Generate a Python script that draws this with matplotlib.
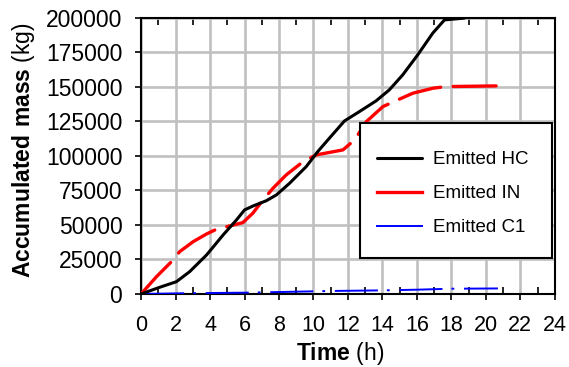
import matplotlib
matplotlib.use("Agg")
import matplotlib.pyplot as plt
from matplotlib.ticker import MultipleLocator
from matplotlib.patches import Rectangle

plt.rcParams['font.family'] = ['Liberation Sans', 'DejaVu Sans']
plt.rcParams['mathtext.fontset'] = 'custom'
plt.rcParams['mathtext.rm'] = 'Liberation Sans'
plt.rcParams['mathtext.bf'] = 'Liberation Sans:bold'
plt.rcParams['lines.scale_dashes'] = False

# Emitted HC
hc_t = [0, 1.08, 2.05, 2.82, 3.8, 4.76, 5.53, 6.0, 6.5, 7.27, 7.85, 8.62, 9.58, 10.25,
        10.75, 11.8, 12.67, 13.63, 14.4, 15.18, 16.05, 16.92, 17.6, 18.76]
hc_m = [0, 4850, 8900, 16200, 28300, 42800, 53600, 60900, 63800, 67600, 71800, 80300, 92300, 103200,
        110400, 125400, 132200, 139900, 147900, 158800, 173300, 189000, 198600, 199900]

# Emitted IN
in_t = [0, 0.89, 1.76, 2.24, 3.02, 3.8, 4.37, 5.14, 5.9, 6.48, 7.07, 7.65, 8.42, 9.4,
        10.17, 11.71, 12.39, 13.07, 14.03, 14.9, 15.77, 16.93, 17.7, 19.0, 20.8]
in_m = [0, 12500, 23400, 30700, 37900, 43500, 46900, 49300, 51700, 58500, 68100, 76600, 86300, 95900,
        100800, 104400, 111700, 124900, 135800, 140700, 145500, 149100, 150300, 150500, 150800]

# Emitted C1
c1_t = [0, 2.4, 6.0, 8.0, 11.0, 14.0, 16.0, 18.0, 20.7]
c1_m = [0, 500, 940, 1400, 2170, 2600, 3100, 3800, 4000]

series_labels = ['Emitted HC', 'Emitted IN', 'Emitted C1']

fig = plt.figure(figsize=(5.69, 3.67), dpi=100)
ax = fig.add_axes([0.248, 0.199, 0.727, 0.752])

ax.plot(hc_t, hc_m, color='black', lw=2.2, label=series_labels[0],
        solid_capstyle='round', solid_joinstyle='round', zorder=4)
ax.plot(in_t, in_m, color='red', lw=2.4, dashes=(31, 9), label=series_labels[1],
        dash_capstyle='round', dash_joinstyle='round', zorder=3)
ax.plot(c1_t, c1_m, color='blue', lw=1.4, dashes=(31, 6.5, 2, 7), label=series_labels[2], zorder=3)

ax.set_xlim(0, 24)
ax.set_ylim(0, 200000)
ax.xaxis.set_major_locator(MultipleLocator(2))
ax.xaxis.set_minor_locator(MultipleLocator(1))
ax.yaxis.set_major_locator(MultipleLocator(25000))

ax.grid(True, which='major', color='#c0c0c0', lw=1.9, zorder=0)
ax.set_axisbelow(True)

ax.tick_params(axis='both', which='major', direction='out', length=4.5, width=1.2,
               colors='black')
ax.tick_params(axis='y', which='major', labelsize=16.5, pad=9)
ax.tick_params(axis='x', which='major', labelsize=15.5, top=False, pad=11)
ax.tick_params(axis='x', which='minor', direction='in', length=5, width=1.2,
               top=True, bottom=True)

for s in ax.spines.values():
    s.set_linewidth(1.5)
    s.set_color('black')

ax.set_xlabel(r'$\bf{Time}$ (h)', fontsize=16.5)
ax.xaxis.set_label_coords(0.482, -0.165)
ax.set_ylabel(r'$\bf{Accumulated\ mass}$ (kg)', fontsize=16.5)
ax.yaxis.set_label_coords(-0.251, 0.522)

# legend frame
rect = Rectangle((0.529, 0.130), 0.464, 0.490, transform=ax.transAxes,
                 facecolor='white', edgecolor='black', lw=1.5, zorder=9, clip_on=False)
ax.add_patch(rect)

leg = ax.legend(loc='center left', bbox_to_anchor=(0.570, 0.364), borderaxespad=0,
                borderpad=0, fontsize=13.5, frameon=False,
                handlelength=2.4, handletextpad=0.6, labelspacing=0.9)
leg.set_zorder(10)
leg.get_lines()[1].set_linestyle('-')
leg.get_lines()[2].set_linestyle('-')

fig.savefig('out.png', dpi=100)
